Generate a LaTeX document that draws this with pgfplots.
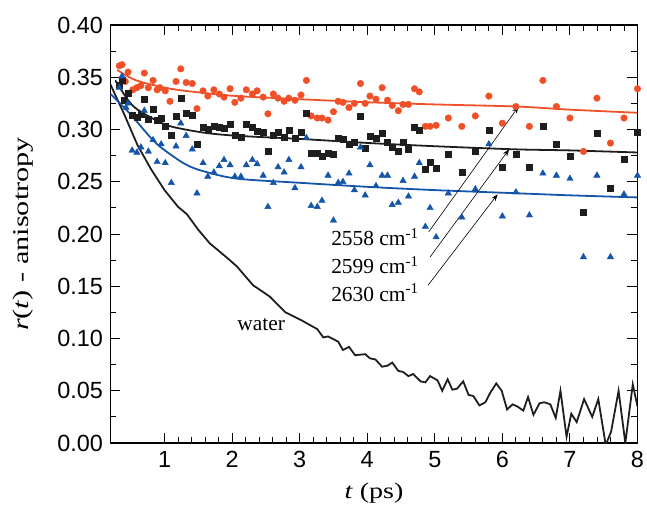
\documentclass[border=0pt]{standalone}
\usepackage{pgfplots}
\pgfplotsset{compat=1.18}
\usetikzlibrary{arrows.meta}
\usepackage{graphicx}
\usepackage{fontspec}
\setmainfont{Liberation Serif}
\newfontfamily\arial{Liberation Sans}
\definecolor{cred}{RGB}{240,80,40}
\definecolor{cblue}{RGB}{20,85,170}
\definecolor{cblack}{RGB}{30,30,30}

\begin{document}
\begin{tikzpicture}
\useasboundingbox (-110.5bp,-67bp) rectangle (536.5bp,443bp);
\begin{axis}[
 scale only axis, width=527bp, height=418bp,
 xmin=0.2, xmax=8, ymin=0, ymax=0.4,
 xtick={1,2,3,4,5,6,7,8},
 ytick={0,0.05,0.1,0.15,0.2,0.25,0.3,0.35,0.4},
 minor x tick num=4, minor y tick num=1,
 tick align=inside,
 major tick length=10bp, minor tick length=6bp,
 axis line style={line width=1.1pt},
 every tick/.style={black, line width=0.9pt},
 tick label style={font=\arial\fontsize{23.5}{23.5}\selectfont},
 /pgf/number format/assume math mode=true,
 yticklabel style={xshift=-4bp, /pgf/number format/.cd, fixed, fixed zerofill, precision=2},
 xticklabel style={yshift=-5bp},
 xlabel={\scalebox{1.25}[1]{\textit{t} (ps)}},
 ylabel={\scalebox{1.35}[1]{\textit{r}(\textit{t}) - anisotropy}},
 label style={font=\fontsize{22.5}{22.5}\selectfont},
 xlabel style={at={(axis description cs:0.5,-0.12)}, anchor=center},
 ylabel style={at={(axis description cs:-0.165,0.5)}, anchor=center},
]
% water
\addplot[cblack, line width=1.8pt] coordinates {
(0.2,0.343)(0.4,0.315)(0.6,0.285)(0.8,0.262)(1.0,0.242)(1.2,0.226)(1.33,0.219)(1.50,0.204)
(1.67,0.191)(1.93,0.177)(2.07,0.169)(2.31,0.151)(2.56,0.140)(2.79,0.125)(3.01,0.118)
(3.26,0.109)(3.35,0.101)(3.42,0.102)(3.57,0.097)(3.64,0.089)(3.73,0.092)(3.82,0.084)
(3.97,0.085)(4.04,0.081)(4.12,0.080)(4.22,0.073)(4.30,0.074)(4.37,0.077)(4.46,0.069)
(4.53,0.068)(4.61,0.064)(4.68,0.066)(4.79,0.059)(4.86,0.058)(4.93,0.064)(5.04,0.060)
(5.11,0.050)(5.19,0.061)(5.26,0.051)(5.33,0.052)(5.42,0.059)(5.50,0.046)(5.57,0.045)
(5.66,0.036)(5.75,0.039)(5.82,0.048)(5.91,0.057)(5.99,0.050)(6.07,0.032)(6.15,0.037)
(6.22,0.035)(6.31,0.031)(6.38,0.044)(6.46,0.027)(6.55,0.038)(6.62,0.039)(6.71,0.037)
(6.79,0.024)(6.86,0.050)(6.95,0.006)(7.02,0.028)(7.10,0.020)(7.21,0.042)(7.33,0.025)
(7.42,0.042)(7.53,-0.002)(7.61,0.011)(7.72,0.050)(7.82,0.000)(7.93,0.056)(8.0,0.035)};
% red data
\addplot[only marks, mark=*, mark size=3.3bp, cred, mark options={draw=none, fill=cred}] coordinates {
(0.33,0.361)(0.37,0.362)(0.42,0.346)(0.46,0.355)(0.53,0.338)(0.59,0.340)(0.65,0.342)
(0.70,0.354)(0.76,0.340)(0.83,0.347)(0.89,0.338)(0.93,0.340)(1.01,0.337)(1.08,0.327)
(1.17,0.346)(1.24,0.358)(1.32,0.345)(1.41,0.344)(1.48,0.320)(1.57,0.337)(1.64,0.332)
(1.73,0.338)(1.81,0.334)(1.88,0.331)(1.97,0.339)(2.04,0.326)(2.13,0.330)(2.21,0.338)
(2.30,0.334)(2.37,0.337)(2.46,0.331)(2.53,0.315)(2.61,0.334)(2.68,0.330)(2.77,0.327)
(2.84,0.330)(2.93,0.328)(3.02,0.333)(3.10,0.347)(3.17,0.313)(3.26,0.311)(3.33,0.311)
(3.42,0.309)(3.50,0.317)(3.57,0.327)(3.64,0.326)(3.73,0.321)(3.81,0.325)(3.90,0.344)
(3.97,0.325)(4.04,0.332)(4.13,0.329)(4.22,0.340)(4.30,0.328)(4.37,0.323)(4.46,0.318)
(4.53,0.324)(4.61,0.324)(4.70,0.339)(4.77,0.336)(4.86,0.303)(4.93,0.303)(5.02,0.304)
(5.2,0.311)(5.4,0.303)(5.6,0.313)(5.8,0.332)(6.0,0.306)(6.2,0.322)(6.4,0.303)(6.6,0.347)
(6.8,0.322)(7.0,0.311)(7.2,0.279)(7.4,0.330)(7.6,0.287)(7.8,0.311)(8.0,0.339)};
% black data
\addplot[only marks, mark=square*, mark size=3bp, cblack, mark options={draw=none, fill=cblack}] coordinates {
(0.33,0.342)(0.37,0.347)(0.40,0.328)(0.46,0.335)(0.52,0.314)(0.59,0.312)(0.65,0.315)
(0.70,0.329)(0.76,0.310)(0.83,0.319)(0.89,0.309)(0.95,0.311)(1.01,0.303)(1.10,0.295)
(1.17,0.313)(1.24,0.330)(1.32,0.316)(1.41,0.314)(1.48,0.286)(1.57,0.302)(1.64,0.300)
(1.73,0.303)(1.81,0.302)(1.88,0.301)(1.97,0.305)(2.04,0.295)(2.13,0.293)(2.21,0.305)
(2.30,0.302)(2.37,0.298)(2.46,0.297)(2.53,0.279)(2.61,0.295)(2.68,0.297)(2.77,0.293)
(2.84,0.299)(2.93,0.292)(3.02,0.297)(3.10,0.316)(3.17,0.277)(3.26,0.277)(3.33,0.274)
(3.42,0.277)(3.50,0.276)(3.57,0.292)(3.64,0.291)(3.73,0.286)(3.81,0.288)(3.90,0.313)
(3.97,0.282)(4.04,0.294)(4.13,0.292)(4.22,0.296)(4.30,0.288)(4.37,0.283)(4.46,0.279)
(4.53,0.288)(4.61,0.281)(4.70,0.302)(4.77,0.299)(4.86,0.262)(4.93,0.269)(5.02,0.263)
(5.2,0.276)(5.4,0.259)(5.6,0.279)(5.8,0.299)(6.0,0.264)(6.2,0.276)(6.4,0.264)(6.6,0.303)
(6.8,0.286)(7.0,0.274)(7.2,0.221)(7.4,0.296)(7.6,0.244)(7.8,0.272)(8.0,0.297)};
% blue data
\addplot[only marks, mark=triangle*, mark size=3.7bp, cblue, mark options={draw=none, fill=cblue}] coordinates {
(0.33,0.340)(0.37,0.351)(0.43,0.321)(0.46,0.325)(0.52,0.280)(0.59,0.278)(0.65,0.283)
(0.70,0.318)(0.76,0.279)(0.83,0.290)(0.89,0.269)(0.95,0.286)(1.01,0.268)(1.10,0.249)
(1.17,0.284)(1.24,0.306)(1.32,0.294)(1.41,0.281)(1.48,0.239)(1.57,0.268)(1.64,0.255)
(1.73,0.259)(1.81,0.265)(1.88,0.271)(1.97,0.266)(2.04,0.255)(2.13,0.255)(2.21,0.266)
(2.30,0.271)(2.37,0.267)(2.46,0.256)(2.53,0.226)(2.61,0.249)(2.68,0.264)(2.77,0.259)
(2.84,0.271)(2.93,0.244)(3.02,0.264)(3.10,0.292)(3.17,0.227)(3.26,0.226)(3.33,0.232)
(3.42,0.256)(3.50,0.213)(3.57,0.249)(3.64,0.250)(3.73,0.258)(3.81,0.242)(3.90,0.283)
(3.97,0.237)(4.04,0.266)(4.13,0.246)(4.22,0.256)(4.30,0.256)(4.37,0.228)(4.46,0.230)
(4.53,0.251)(4.61,0.236)(4.70,0.255)(4.77,0.268)(4.86,0.207)(4.93,0.225)(5.02,0.197)
(5.2,0.239)(5.4,0.216)(5.6,0.243)(5.8,0.286)(6.0,0.217)(6.2,0.240)(6.4,0.218)(6.6,0.258)
(6.8,0.256)(7.0,0.253)(7.2,0.178)(7.4,0.256)(7.6,0.178)(7.8,0.238)(8.0,0.256)};
% fits
\addplot[cred, line width=1.8pt, smooth] coordinates {
(0.3,0.357)(0.58,0.347)(1.09,0.339)(1.58,0.335)(2.07,0.332)(3,0.329)(4.04,0.326)(5,0.324)(6.2,0.322)(7,0.319)(8,0.316)};
\addplot[cblack, line width=1.8pt, smooth] coordinates {
(0.27,0.347)(0.45,0.329)(0.58,0.320)(0.84,0.310)(1.09,0.303)(1.58,0.297)(2.07,0.294)(3,0.291)(4.04,0.287)(5,0.284)(6.2,0.281)(7,0.280)(8,0.278)};
\addplot[cblue, line width=1.8pt, smooth] coordinates {
(0.2,0.334)(0.49,0.315)(0.84,0.289)(1.09,0.276)(1.33,0.266)(1.58,0.260)(2.07,0.253)(3,0.249)(4.04,0.245)(5,0.242)(6.2,0.239)(7,0.237)(8,0.235)};
% annotations
\node[anchor=west, font=\fontsize{21.5}{21.5}\selectfont, inner sep=1bp] at (axis cs:3.45,0.197) {2558 cm\textsuperscript{-1}};
\node[anchor=west, font=\fontsize{21.5}{21.5}\selectfont, inner sep=1bp] at (axis cs:3.45,0.170) {2599 cm\textsuperscript{-1}};
\node[anchor=west, font=\fontsize{21.5}{21.5}\selectfont, inner sep=1bp] at (axis cs:3.45,0.144) {2630 cm\textsuperscript{-1}};
\node[font=\fontsize{21.5}{21.5}\selectfont] at (axis cs:2.43,0.113) {water};
\draw[-{Stealth[length=7bp,width=5bp]}, line width=0.6pt] (axis cs:4.91,0.202) -- (axis cs:6.24,0.322);
\draw[-{Stealth[length=7bp,width=5bp]}, line width=0.6pt] (axis cs:4.93,0.178) -- (axis cs:6.10,0.281);
\draw[-{Stealth[length=7bp,width=5bp]}, line width=0.6pt] (axis cs:4.90,0.151) -- (axis cs:5.93,0.238);
\end{axis}
\end{tikzpicture}
\end{document}
